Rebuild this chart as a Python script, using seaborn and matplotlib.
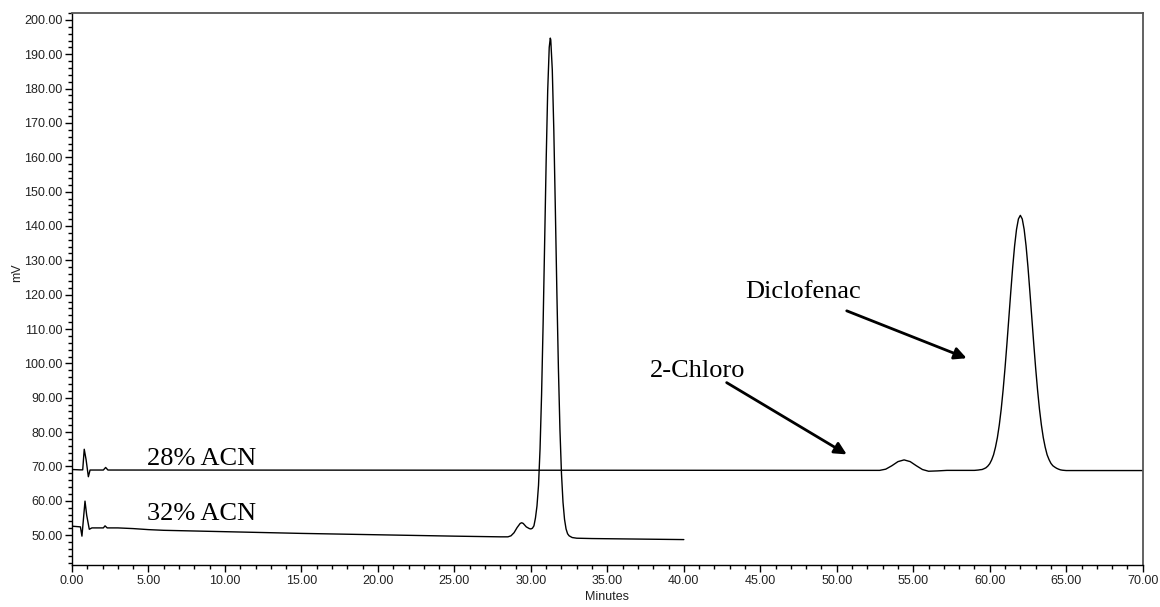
import matplotlib
matplotlib.use("Agg")
import matplotlib.pyplot as plt
from matplotlib.ticker import MultipleLocator, FormatStrFormatter
import seaborn as sns
import pandas as pd

# ---- data ----
t28 = [0.0, 0.5, 0.70, 0.80, 0.92, 1.07, 1.18, 2.05, 2.20, 2.35, 52.8, 53.2, 53.6, 54.0,
       54.4, 54.8, 55.2, 55.6, 56.0, 56.6, 57.2, 59.0,
       59.25, 59.375, 59.5, 59.625, 59.75, 59.875, 60.0, 60.125, 60.25, 60.375, 60.5,
       60.625, 60.75, 60.875, 61.0, 61.125, 61.25, 61.375, 61.5, 61.625, 61.75, 61.875,
       62.0, 62.125, 62.25, 62.375, 62.5, 62.625, 62.75, 62.875, 63.0, 63.125, 63.25,
       63.375, 63.5, 63.625, 63.75, 63.875, 64.0, 64.125, 64.25, 64.375, 64.5, 64.625,
       64.75, 65.0, 70.0]
mv28 = [69.1, 69.0, 69.0, 75.0, 72.0, 67.0, 68.95, 68.95, 69.7, 68.95, 68.85, 69.2, 70.2, 71.4,
        71.9, 71.4, 70.2, 69.1, 68.6, 68.7, 68.85, 68.85,
        68.95, 69.04, 69.1, 69.33, 69.6, 70.1, 70.8, 71.9, 73.4, 75.6, 78.4,
        82.1, 86.7, 92.3, 98.7, 105.8, 113.3, 120.8, 128.0, 134.2, 139.0, 142.05,
        143.1, 142.05, 139.0, 134.2, 128.0, 120.8, 113.3, 105.8, 98.7, 92.3, 86.7,
        82.1, 78.4, 75.6, 73.4, 72.0, 70.9, 70.2, 69.8, 69.45, 69.2, 69.0,
        68.9, 68.8, 68.8]

t32 = [0.0, 0.55, 0.65, 0.85, 0.96, 1.13, 1.3, 2.05, 2.16, 2.3, 3.0, 4.0, 5.0, 6.0, 7.0,
       10.0, 15.0, 20.0, 25.0, 28.0, 28.5, 28.7, 28.9, 29.1, 29.3, 29.4, 29.5, 29.7, 29.9,
       30.0, 30.1, 30.2, 30.3, 30.4, 30.5, 30.6, 30.7, 30.8, 30.9, 31.0, 31.1, 31.2, 31.27,
       31.3, 31.4, 31.5, 31.6, 31.7, 31.8, 31.9, 32.0, 32.1, 32.2, 32.3, 32.4, 32.5, 32.7,
       33.0, 34.0, 36.0, 38.0, 40.0]
mv32 = [52.6, 52.4, 49.7, 59.9, 55.8, 51.7, 52.1, 52.1, 52.7, 52.1, 52.1, 51.9, 51.6, 51.4, 51.3,
        51.0, 50.5, 50.1, 49.7, 49.5, 49.5, 49.8, 50.7, 52.2, 53.4, 53.6, 53.4, 52.4, 51.9,
        51.8, 52.0, 52.7, 55.0, 58.5, 64.5, 75.1, 90.9, 111.4, 135.1, 159.1, 179.4, 192.0, 194.7,
        194.2, 185.5, 167.9, 144.9, 120.6, 98.6, 80.8, 68.0, 59.6, 54.6, 51.8, 50.4, 49.8, 49.3,
        49.1, 49.0, 48.9, 48.8, 48.7]

trace_labels = ["28% ACN", "32% ACN"]
peak_labels = ["Diclofenac", "2-Chloro"]

# ---- styling ----
sns.set_style("ticks")
plt.rcParams["font.family"] = ["Liberation Sans", "DejaVu Sans"]
plt.rcParams["text.color"] = "black"

fig = plt.figure(figsize=(11.6, 6.07), dpi=100)
ax = fig.add_axes([72 / 1160, 42 / 607, 1070.7 / 1160, 552.3 / 607])

df28 = pd.DataFrame({"Minutes": t28, "mV": mv28})
df32 = pd.DataFrame({"Minutes": t32, "mV": mv32})
sns.lineplot(data=df28, x="Minutes", y="mV", estimator=None, sort=False,
             color="black", linewidth=1.0, ax=ax)
sns.lineplot(data=df32, x="Minutes", y="mV", estimator=None, sort=False,
             color="black", linewidth=1.0, ax=ax)

ax.set_xlim(0, 70)
ax.set_ylim(41.3, 202.1)

ax.xaxis.set_major_locator(MultipleLocator(5))
ax.xaxis.set_minor_locator(MultipleLocator(1))
ax.yaxis.set_major_locator(MultipleLocator(10))
ax.yaxis.set_minor_locator(MultipleLocator(2))
ax.xaxis.set_major_formatter(FormatStrFormatter("%.2f"))
ax.yaxis.set_major_formatter(FormatStrFormatter("%.2f"))
ax.set_yticks([v for v in range(50, 201, 10)])

ax.tick_params(axis="both", which="major", direction="out", length=5, width=1,
               color="black", labelsize=9, labelcolor="#222222", pad=2)
ax.tick_params(axis="both", which="minor", direction="out", length=3, width=1, color="black")

for side in ["left", "bottom"]:
    ax.spines[side].set_color("black")
    ax.spines[side].set_linewidth(1.0)
for side in ["top", "right"]:
    ax.spines[side].set_visible(True)
    ax.spines[side].set_color("#555555")
    ax.spines[side].set_linewidth(1.3)

ax.set_xlabel("Minutes", fontsize=9, color="#222222", labelpad=3)
ax.set_ylabel("mV", fontsize=9, color="#222222")
ax.yaxis.set_label_coords(-0.046, 0.53)

serif = ["Liberation Serif", "DejaVu Serif"]
ax.text(4.88, 70.4, trace_labels[0], fontsize=19, family=serif, color="black",
        ha="left", va="baseline")
ax.text(4.88, 54.4, trace_labels[1], fontsize=19, family=serif, color="black",
        ha="left", va="baseline")
ax.text(44.0, 118.9, peak_labels[0], fontsize=19, family=serif, color="black",
        ha="left", va="baseline")
ax.text(37.8, 96.1, peak_labels[1], fontsize=19, family=serif, color="black",
        ha="left", va="baseline")

arrow = dict(arrowstyle="-|>", color="black", lw=2.0, mutation_scale=18, shrinkA=0, shrinkB=0)
ax.annotate("", xy=(58.49, 101.5), xytext=(50.65, 115.3), arrowprops=arrow)
ax.annotate("", xy=(50.65, 73.5), xytext=(42.80, 94.4), arrowprops=arrow)

fig.savefig("out.png", dpi=100)
